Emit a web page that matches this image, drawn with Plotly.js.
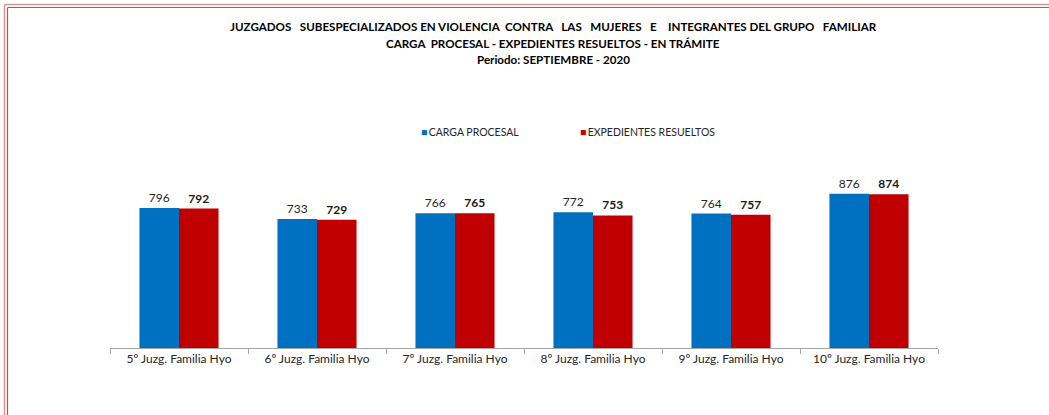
<!DOCTYPE html>
<html>
<head>
<meta charset="utf-8">
<script src="https://cdn.plot.ly/plotly-3.0.1.min.js"></script>
<style>html,body{margin:0;padding:0;background:#fff;}#chart{width:1049px;height:415px;}</style>
</head>
<body>
<div id="chart"></div>
<script>
const categories = ["5º Juzg. Familia Hyo","6º Juzg. Familia Hyo","7º Juzg. Familia Hyo","8º Juzg. Familia Hyo","9º Juzg. Familia Hyo","10º Juzg. Familia Hyo"];
const cargaProcesal = [796, 733, 766, 772, 764, 876];
const expedientesResueltos = [792, 729, 765, 753, 757, 874];
const seriesNames = ["CARGA PROCESAL", "EXPEDIENTES RESUELTOS"];
const titleLines = [
  "JUZGADOS\u00A0\u00A0 SUBESPECIALIZADOS EN VIOLENCIA\u00A0 CONTRA\u00A0\u00A0 LAS\u00A0\u00A0 MUJERES\u00A0\u00A0 E\u00A0\u00A0\u00A0 INTEGRANTES DEL GRUPO\u00A0\u00A0 FAMILIAR",
  "CARGA\u00A0 PROCESAL - EXPEDIENTES RESUELTOS - EN TRÁMITE",
  "Periodo: SEPTIEMBRE - 2020"
];

const FONT = "Lato, 'Open Sans', sans-serif";
const COLORS = ["#0070C0", "#C00000"];

const traces = [
  {type:"bar", x:categories, y:cargaProcesal, name:seriesNames[0], marker:{color:COLORS[0]}, showlegend:false,
   texttemplate:"%{y}", textposition:"outside", cliponaxis:false,
   textfont:{family:FONT, size:12, color:"#262626"}, hoverinfo:"x+y"},
  {type:"bar", x:categories, y:expedientesResueltos, name:seriesNames[1], marker:{color:COLORS[1]}, showlegend:false,
   texttemplate:"<b>%{y}</b>", textposition:"outside", cliponaxis:false,
   textfont:{family:FONT, size:12, color:"#1a1a1a"}, hoverinfo:"x+y"}
];

// plot area: x 110..938, y 172..348
const L=110, R=938, T=172, B=348, W=1049, H=415;
const px = v => (v-L)/(R-L);
const py = v => (B-v)/(B-T);
const border = "#C0504D";

const shapes = [
  {type:"line", xref:"paper", yref:"paper", x0:px(4.5), x1:px(1060), y0:py(4.5), y1:py(4.5), line:{color:"#D99594", width:1.5}},
  {type:"line", xref:"paper", yref:"paper", x0:px(7.5), x1:px(1060), y0:py(7.5), y1:py(7.5), line:{color:border, width:1.2}},
  {type:"line", xref:"paper", yref:"paper", x0:px(4.5), x1:px(4.5), y0:py(4.5), y1:py(430), line:{color:"#D99594", width:1.5}},
  {type:"line", xref:"paper", yref:"paper", x0:px(7.5), x1:px(7.5), y0:py(7.5), y1:py(430), line:{color:border, width:1.2}}
];

const titleY = [26, 43, 59];
const annotations = titleLines.map((t,i)=>({
  text:"<b>"+t+"</b>", xref:"paper", yref:"paper", x:px(553), y:py(titleY[i]),
  xanchor:"center", yanchor:"middle", showarrow:false,
  font:{family:FONT, size:11.6, color:"#000"}
}));

// legend (square key + label)
const legendX = [419, 578];
seriesNames.forEach((n,i)=>{
  annotations.push({
    text:"<span style='color:"+COLORS[i]+"'>■</span>\u2009"+n, xref:"paper", yref:"paper",
    x:px(legendX[i]), y:py(132), xanchor:"left", yanchor:"middle", showarrow:false,
    font:{family:FONT, size:10.5, color:"#262626"}
  });
});

const layout = {
  width:W, height:H,
  margin:{l:L, r:W-R, t:T, b:H-B, pad:0},
  paper_bgcolor:"#fff", plot_bgcolor:"#fff",
  font:{family:FONT, color:"#262626"},
  barmode:"group", bargap:0.427, bargroupgap:0,
  showlegend:false,
  xaxis:{type:"category", showline:true, linecolor:"#A6A6A6", linewidth:1,
         ticks:"outside", tickson:"boundaries", ticklen:5, tickcolor:"#A6A6A6",
         tickfont:{family:FONT, size:12, color:"#262626"}, showgrid:false, zeroline:false, fixedrange:true},
  yaxis:{range:[0,1000], visible:false, showgrid:false, zeroline:false, fixedrange:true},
  shapes:shapes, annotations:annotations
};

Plotly.newPlot("chart", traces, layout, {displayModeBar:false, staticPlot:true});
</script>
</body>
</html>
